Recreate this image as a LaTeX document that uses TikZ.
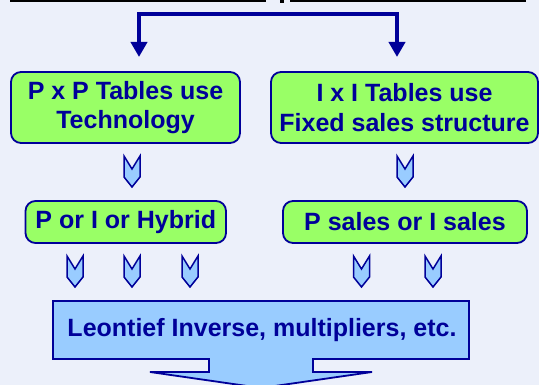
\documentclass[tikz,border=0pt]{standalone}
\usepackage{fontspec}
\setmainfont{Liberation Sans}
\usetikzlibrary{arrows.meta}
\definecolor{navy}{RGB}{0,0,153}
\definecolor{boxgreen}{RGB}{153,255,102}
\definecolor{skyfill}{RGB}{153,204,255}
\definecolor{pagebg}{RGB}{236,240,250}

\begin{document}
\begin{tikzpicture}[x=1pt,y=-1pt,
  labelfont/.style={font=\fontsize{25}{29.5}\selectfont\bfseries, text=navy},
  box/.style={labelfont, draw=navy, line width=1.8pt, fill=boxgreen,
    rounded corners=10pt, inner sep=0pt, align=center},
  conn/.style={draw=navy, line width=4pt, line join=miter},
  chevron/.pic={
    \filldraw[draw=navy, fill=skyfill, line width=1.5pt, line join=miter]
      (-8,0) -- (0,13) -- (8,0) -- (8,21) -- (0,31) -- (-8,21) -- cycle;
  }]
  \useasboundingbox (0,0) rectangle (539,385);
  \clip (0,0) rectangle (539,385);
  \fill[pagebg] (0,0) rectangle (539,385);

  % rule along the top edge
  \draw[black, line width=1.6pt] (10,0.8) -- (266,0.8);
  \draw[black, line width=1.6pt] (290,0.8) -- (526,0.8);
  \fill[black] (280,0) rectangle (284,3.5);

  % upper boxes
  \node[box, minimum width=229pt, minimum height=71pt] (pxp) at (125.5,107.5)
    {P x P Tables use\\Technology};
  \node[box, minimum width=267pt, minimum height=71pt] (ixi) at (404.5,107.5)
    {I x I Tables use\\Fixed sales structure};

  % split connector feeding both upper boxes
  \coordinate (split) at (268,14);
  \coordinate (tl) at (139,57);
  \coordinate (tr) at (397,57);
  \draw[conn, {Triangle[width=16pt,length=15pt]}-{Triangle[width=16pt,length=15pt]}]
    (tl) |- (split) -| (tr);

  % middle boxes
  \node[box, minimum width=200.5pt, minimum height=42pt] (mix) at (125.75,222)
    {P or I or Hybrid};
  \node[box, minimum width=244pt, minimum height=42pt] (sales) at (405,222)
    {P sales or I sales};

  % chevrons between the rows
  \pic at (132,156) {chevron};
  \pic at (405,156) {chevron};
  \foreach \cx in {75,132,190,361.5,433}
    \pic at (\cx,256) {chevron};

  % result box with its downward arrow
  \path[fill=skyfill, draw=navy, line width=1.8pt, line join=miter]
    (53,301) -- (469,301) -- (469,359) -- (313,359) -- (313,372) -- (372,372)
    -- (261,388) -- (150,372) -- (209,372) -- (209,359) -- (53,359) -- cycle;
  \node[labelfont, inner sep=0pt] (inv) at (262,330)
    {Leontief Inverse, multipliers, etc.};
\end{tikzpicture}
\end{document}
